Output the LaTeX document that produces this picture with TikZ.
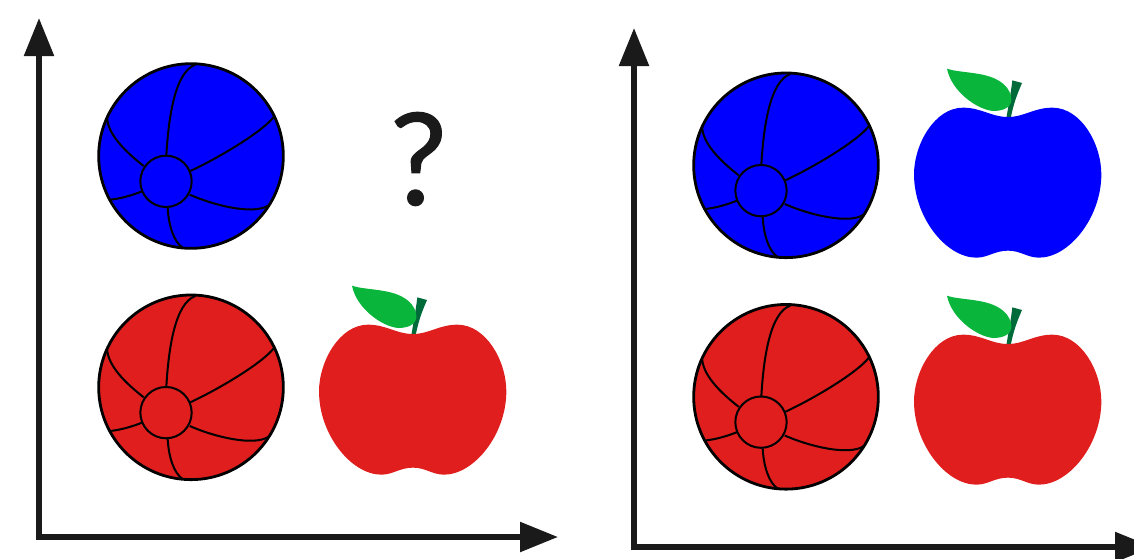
\documentclass[tikz,border=0pt]{standalone}
\usepackage{fontspec}
\setmainfont{Lato}
\newfontfamily\qfont[FakeBold=0.8]{Lato}
\usetikzlibrary{arrows.meta}
\definecolor{axisdark}{HTML}{1A1A1A}
\definecolor{applered}{HTML}{E01E1E}
\definecolor{pureblue}{HTML}{0000FF}
\definecolor{leafgreen}{HTML}{0AB53B}
\definecolor{stemgreen}{HTML}{006B3A}
\tikzset{
  axisline/.style={draw=axisdark,line width=5.5pt,miter limit=10,{Triangle[length=38pt,width=29pt]}-{Triangle[length=38pt,width=29pt]}},
  seam/.style={draw=black,line width=2pt},
  ball/.pic={
    \begin{scope}[x=0.3333pt,y=-0.3333pt]
      \fill[#1] (0,0) circle[radius=278];
      \draw[black,line width=2.8pt] (0,0) circle[radius=277];
      \draw[seam] (-75,76) circle[radius=77];
      \draw[seam] (-74,-2) .. controls (-67,-122) and (-47,-252) .. (13,-274);
      \draw[seam] (-142,30) .. controls (-202,-17) and (-250,-67) .. (-252,-117);
      \draw[seam] (-2,45) .. controls (98,-2) and (218,-77) .. (248,-117);
      \draw[seam] (-4,116) .. controls (68,148) and (188,178) .. (233,148);
      \draw[seam] (-70,155) .. controls (-67,208) and (-52,258) .. (-24,276);
      \draw[seam] (-147,106) .. controls (-177,118) and (-212,128) .. (-242,131);
    \end{scope}
  },
  apple/.pic={
    \begin{scope}[x=0.3333pt,y=-0.3333pt,shift={(-310,-178)}]
      \fill[stemgreen] (305,182) .. controls (310,150) and (318,110) .. (323,68)
        -- (352,76) .. controls (342,100) and (328,130) .. (318,182) -- cycle;
      \fill[leafgreen] (127,33) .. controls (170,48) and (250,40) .. (295,78)
        .. controls (312,92) and (320,110) .. (320,125)
        .. controls (320,150) and (295,160) .. (265,160)
        .. controls (215,155) and (140,100) .. (127,33) -- cycle;
      \fill[#1] (310,178) .. controls (358,178) and (388,150) .. (443,150)
        .. controls (530,150) and (590,260) .. (590,350)
        .. controls (590,480) and (493,600) .. (403,600)
        .. controls (368,600) and (348,579) .. (310,579)
        .. controls (270,579) and (250,600) .. (215,600)
        .. controls (125,600) and (28,480) .. (28,350)
        .. controls (28,260) and (90,150) .. (175,150)
        .. controls (230,150) and (260,178) .. (310,178) -- cycle;
    \end{scope}
  }
}
\begin{document}
\begin{tikzpicture}[x=1pt,y=-1pt]
  \useasboundingbox (0,0) rectangle (1134,558);
  \clip (0,0) rectangle (1134,558);
  % left panel axes
  \coordinate (lo) at (39,537);
  \coordinate (lyend) at (39,18);
  \coordinate (lxend) at (558,537);
  \draw[axisline] (lyend) -- (lo) -- (lxend);
  % right panel axes
  \coordinate (ro) at (634,547);
  \coordinate (ryend) at (634,28);
  \coordinate (rxend) at (1153,547);
  \draw[axisline] (ryend) -- (ro) -- (rxend);
  % left panel contents
  \pic at (191,156) {ball=pureblue};
  \pic at (191,387.3) {ball=applered};
  \pic at (413,334) {apple=applered};
  \node[text=axisdark,inner sep=0pt,font=\qfont\fontsize{128}{128}\selectfont] (qmark) at (418.5,159) {?};
  % right panel contents
  \pic at (786,165.3) {ball=pureblue};
  \pic at (786,396.8) {ball=applered};
  \pic at (1008,117) {apple=pureblue};
  \pic at (1008,344) {apple=applered};
\end{tikzpicture}
\end{document}
